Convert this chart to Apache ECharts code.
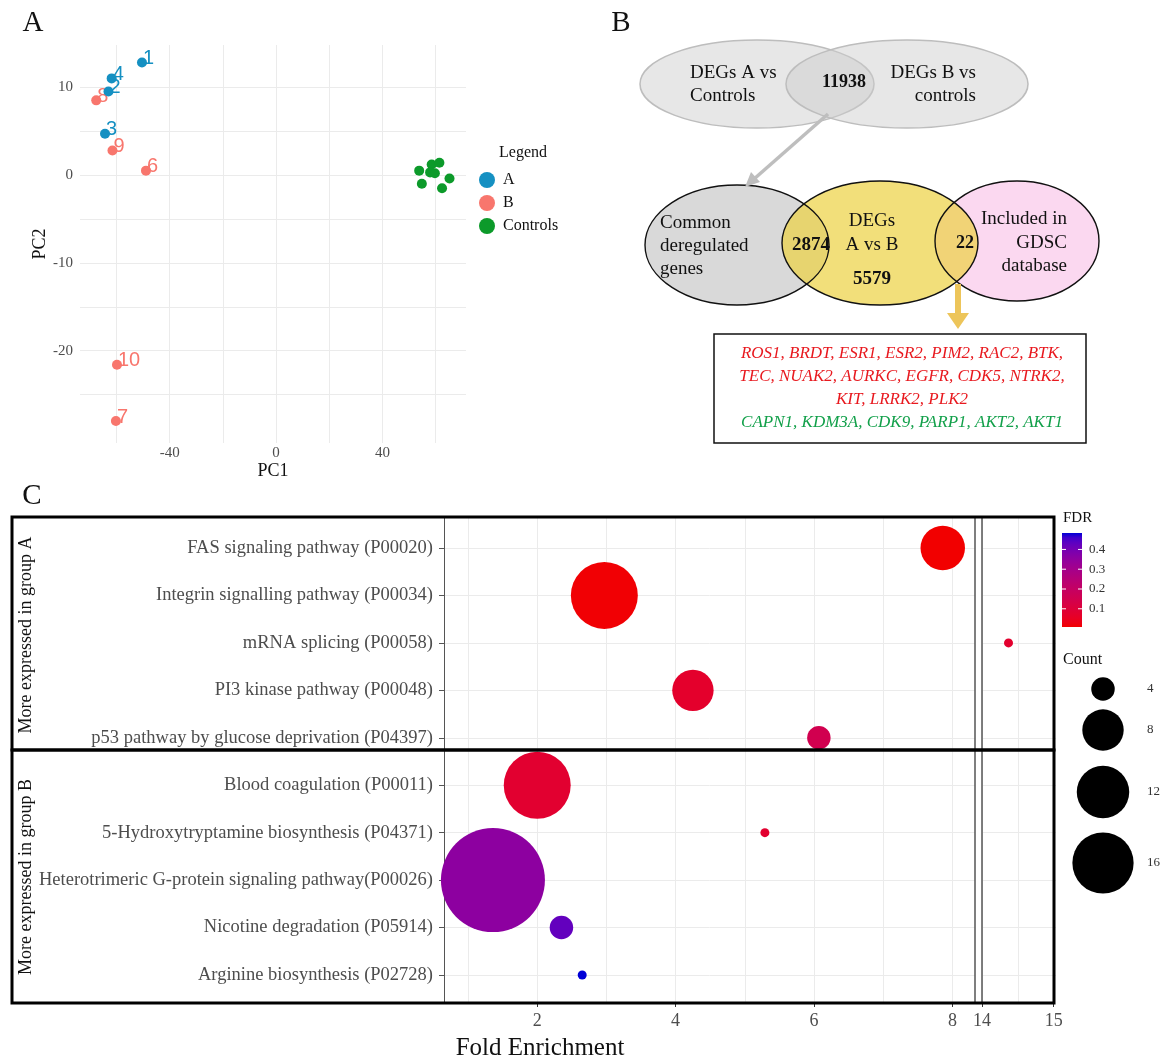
<!DOCTYPE html>
<html><head><meta charset="utf-8">
<script src="https://cdn.jsdelivr.net/npm/echarts@6/dist/echarts.min.js"></script>
<style>html,body{margin:0;padding:0;background:#fff}#c{width:1162px;height:1059px}</style>
</head><body><div id="c"></div>
<script>
// ---------------- Panel A: PCA ----------------
const sampleA_PC1 = [-50.4, -63.0, -64.3, -61.8];
const sampleA_PC2 = [12.8, 9.5, 4.7, 11.0];
const sampleA_ids = ['1', '2', '3', '4'];
const sampleB_PC1 = [-48.9, -60.2, -67.6, -61.5, -59.8];
const sampleB_PC2 = [0.5, -28.0, 8.5, 2.8, -21.6];
const sampleB_ids = ['6', '7', '8', '9', '10'];
const control_PC1 = [53.8, 54.8, 58.5, 61.4, 57.9, 59.7, 65.2, 62.4];
const control_PC2 = [0.5, -1.0, 1.2, 1.4, 0.3, 0.2, -0.4, -1.5];
const pcaXLabels = [-40, 0, 40];
const pcaXGrid = [-60, -40, -20, 0, 20, 40, 60];
const pcaYLabels = [-20, -10, 0, 10];
const pcaYGrid = [-25, -20, -15, -10, -5, 0, 5, 10];
const groupNames = ['A', 'B', 'Controls'];

// ---------------- Panel B: Venn ----------------
const vennTopLeft = ['DEGs A vs', 'Controls'];
const vennTopRight = ['DEGs B vs', 'controls'];
const vennCommonCount = 11938;
const vennBottomLeft = ['Common', 'deregulated', 'genes'];
const vennBottomMid = ['DEGs', 'A vs B'];
const vennBottomRight = ['Included in', 'GDSC', 'database'];
const vennOverlapLeft = 2874;
const vennMidCount = 5579;
const vennOverlapRight = 22;
const genesUp = ['ROS1', 'BRDT', 'ESR1', 'ESR2', 'PIM2', 'RAC2', 'BTK', 'TEC', 'NUAK2', 'AURKC', 'EGFR', 'CDK5', 'NTRK2', 'KIT', 'LRRK2', 'PLK2'];
const genesDown = ['CAPN1', 'KDM3A', 'CDK9', 'PARP1', 'AKT2', 'AKT1'];

// ---------------- Panel C: enrichment ----------------
const pathways = [
  'FAS signaling pathway (P00020)',
  'Integrin signalling pathway (P00034)',
  'mRNA splicing (P00058)',
  'PI3 kinase pathway (P00048)',
  'p53 pathway by glucose deprivation (P04397)',
  'Blood coagulation (P00011)',
  '5-Hydroxytryptamine biosynthesis (P04371)',
  'Heterotrimeric G-protein signaling pathway(P00026)',
  'Nicotine degradation (P05914)',
  'Arginine biosynthesis (P02728)'
];
const foldEnrichment = [7.86, 2.97, 14.37, 4.25, 6.07, 2.00, 5.29, 1.36, 2.35, 2.65];
const fdrValues = [0.008, 0.012, 0.075, 0.070, 0.150, 0.080, 0.078, 0.355, 0.425, 0.483];
const geneCount = [9, 19, 3, 8, 4, 19, 3, 46, 4, 3];
const feLeftLabels = [2, 4, 6, 8];
const feLeftGrid = [1, 2, 3, 4, 5, 6, 7, 8];
const feRightLabels = [14, 15];
const feRightGrid = [14, 14.5, 15];
const fdrLegendTicks = [0.1, 0.2, 0.3, 0.4];
const countLegend = [4, 8, 12, 16];

// ---------------- helpers ----------------
const SERIF = '"Liberation Serif", "DejaVu Serif", serif';
const SANS = '"Liberation Sans", Arial, sans-serif';
const GRID_GRAY = '#EBEBEB';
const TXT_GRAY = '#4D4D4D';
const colA = '#1590C2', colB = '#F8766D', colCtrl = '#0C9A2A';

function hexToRgb(h) { h = h.replace('#', ''); return [0, 2, 4].map(i => parseInt(h.substr(i, 2), 16)); }
function toLin(c) { c /= 255; return c <= 0.04045 ? c / 12.92 : Math.pow((c + 0.055) / 1.055, 2.4); }
function fromLin(v) { v = v <= 0.0031308 ? 12.92 * v : 1.055 * Math.pow(Math.max(v, 0), 1 / 2.4) - 0.055; return Math.round(Math.min(1, Math.max(0, v)) * 255); }
const Xn = 0.95047, Yn = 1, Zn = 1.08883;
function fl(t) { return t > 0.008856 ? Math.cbrt(t) : 7.787 * t + 16 / 116; }
function finv(t) { return t > 0.206893 ? t * t * t : (t - 16 / 116) / 7.787; }
function rgbToLab(rgb) {
  const [r, g, b] = rgb.map(toLin);
  const X = 0.4124 * r + 0.3576 * g + 0.1805 * b, Y = 0.2126 * r + 0.7152 * g + 0.0722 * b, Z = 0.0193 * r + 0.1192 * g + 0.9505 * b;
  const fx = fl(X / Xn), fy = fl(Y / Yn), fz = fl(Z / Zn);
  return [116 * fy - 16, 500 * (fx - fy), 200 * (fy - fz)];
}
function labToHex(L, a, b) {
  const fy = (L + 16) / 116, fx = fy + a / 500, fz = fy - b / 200;
  const X = Xn * finv(fx), Y = Yn * finv(fy), Z = Zn * finv(fz);
  const r = 3.2406 * X - 1.5372 * Y - 0.4986 * Z, g = -0.9689 * X + 1.8758 * Y + 0.0415 * Z, bb = 0.0557 * X - 0.2040 * Y + 1.0570 * Z;
  return '#' + [r, g, bb].map(v => fromLin(v).toString(16).padStart(2, '0')).join('');
}
const lowLab = rgbToLab(hexToRgb('#F20000')), highLab = rgbToLab(hexToRgb('#0000D6'));
const NSTOP = 21;
const fdrStops = Array.from({ length: NSTOP }, (_, i) => {
  const t = i / (NSTOP - 1);
  return labToHex(lowLab[0] + (highLab[0] - lowLab[0]) * t, lowLab[1] + (highLab[1] - lowLab[1]) * t, lowLab[2] + (highLab[2] - lowLab[2]) * t);
});

const fdrMin = Math.min(...fdrValues), fdrMax = Math.max(...fdrValues);
const cMin = Math.min(...geneCount), cMax = Math.max(...geneCount);
const D_MIN = 9, D_MAX = 104;
const sizeOf = c => D_MIN + (D_MAX - D_MIN) * Math.sqrt(Math.max(0, c - cMin) / (cMax - cMin));

const leftRows = [], rightRows = [];
pathways.forEach((p, i) => {
  const row = [foldEnrichment[i], i, fdrValues[i], geneCount[i], p];
  (foldEnrichment[i] > 10 ? rightRows : leftRows).push(row);
});
const catIdx = pathways.map((_, i) => i);

// ---------------- graphics ----------------
const G = [];
function text(x, y, t, style, extra) {
  G.push(Object.assign({ type: 'text', x, y, z: 60, style: Object.assign({ text: t, fontFamily: SERIF, fontSize: 19, fill: '#111', align: 'left', verticalAlign: 'middle' }, style || {}) }, extra || {}));
}
function ellipse(cx, cy, rx, ry, fill, stroke, lw, z) {
  G.push({ type: 'ellipse', z: z, shape: { cx, cy, rx, ry }, style: { fill: fill, stroke: stroke, lineWidth: lw } });
}

// panel letters
text(33, 23, 'A', { fontSize: 29, align: 'center' });
text(621, 23, 'B', { fontSize: 29, align: 'center' });
text(32, 496, 'C', { fontSize: 29, align: 'center' });

// PCA legend title
text(499, 153, 'Legend', { fontSize: 16 });

// Venn top
ellipse(757, 84, 117, 44, 'rgba(205,205,205,0.48)', '#BDBDBD', 1.5, 10);
ellipse(907, 84, 121, 44, 'rgba(205,205,205,0.48)', '#BDBDBD', 1.5, 11);
text(690, 73, vennTopLeft[0]);
text(690, 96, vennTopLeft[1]);
text(844, 82, String(vennCommonCount), { fontWeight: 'bold', fontSize: 18, align: 'center' });
text(976, 73, vennTopRight[0], { align: 'right' });
text(976, 96, vennTopRight[1], { align: 'right' });
// gray arrow
G.push({ type: 'line', z: 20, shape: { x1: 828, y1: 114, x2: 754, y2: 179 }, style: { stroke: '#BEBEBE', lineWidth: 3.5 } });
G.push({ type: 'polygon', z: 20, shape: { points: [[745, 187], [751, 172], [760, 182]] }, style: { fill: '#BEBEBE' } });

// Venn bottom
ellipse(737, 245, 92, 60, '#D9D9D9', null, 0, 10);
ellipse(1017, 241, 82, 60, '#FBD8F0', null, 0, 11);
ellipse(880, 243, 98, 62, 'rgba(236,210,66,0.70)', '#111', 1.4, 12);
ellipse(737, 245, 92, 60, null, '#111', 1.4, 13);
ellipse(1017, 241, 82, 60, null, '#111', 1.4, 13);
text(660, 223, vennBottomLeft[0]);
text(660, 246, vennBottomLeft[1]);
text(660, 269, vennBottomLeft[2]);
text(811, 245, String(vennOverlapLeft), { fontWeight: 'bold', fontSize: 19, align: 'center' });
text(872, 221, vennBottomMid[0], { align: 'center' });
text(872, 245, vennBottomMid[1], { align: 'center' });
text(872, 279, String(vennMidCount), { fontWeight: 'bold', fontSize: 19, align: 'center' });
text(965, 243, String(vennOverlapRight), { fontWeight: 'bold', fontSize: 18, align: 'center' });
text(1067, 219, vennBottomRight[0], { align: 'right' });
text(1067, 243, vennBottomRight[1], { align: 'right' });
text(1067, 266, vennBottomRight[2], { align: 'right' });
// yellow arrow
G.push({ type: 'rect', z: 20, shape: { x: 955, y: 284, width: 6, height: 30 }, style: { fill: '#EDC55A' } });
G.push({ type: 'polygon', z: 20, shape: { points: [[947, 313], [969, 313], [958, 329]] }, style: { fill: '#EDC55A' } });
// genes box
G.push({ type: 'rect', z: 20, shape: { x: 714, y: 334, width: 372, height: 109 }, style: { fill: 'none', stroke: '#111', lineWidth: 1.5 } });
const geneLines = [genesUp.slice(0, 7).join(', ') + ',', genesUp.slice(7, 13).join(', ') + ',', genesUp.slice(13).join(', ')];
const geneText = geneLines.map(l => '{r|' + l + '}').join('\n') + '\n{g|' + genesDown.join(', ') + '}';
const GF = 17;
G.push({
  type: 'text', z: 60, x: 902, y: 388, style: {
    text: geneText, align: 'center', verticalAlign: 'middle', fontFamily: SERIF, fontStyle: 'italic', fontSize: GF, lineHeight: 23.3,
    rich: {
      r: { fill: '#E8191F', fontFamily: SERIF, fontStyle: 'italic', fontSize: GF, lineHeight: 23.3 },
      g: { fill: '#12A04A', fontFamily: SERIF, fontStyle: 'italic', fontSize: GF, lineHeight: 23.3 }
    }
  }
});

// Panel C boxes
G.push({ type: 'rect', z: 100, shape: { x: 12, y: 517, width: 1042, height: 233 }, style: { fill: 'none', stroke: '#000', lineWidth: 3 } });
G.push({ type: 'rect', z: 100, shape: { x: 12, y: 750, width: 1042, height: 253 }, style: { fill: 'none', stroke: '#000', lineWidth: 3 } });
text(0, 0, 'More expressed in group A', { fontSize: 18, align: 'center' }, { x: 26, y: 635, rotation: Math.PI / 2 });
text(0, 0, 'More expressed in group B', { fontSize: 18, align: 'center' }, { x: 26, y: 877, rotation: Math.PI / 2 });
text(540, 1048, 'Fold Enrichment', { fontSize: 25, align: 'center' });

// FDR colorbar
const barX = 1062, barY = 533, barW = 20, barH = 94;
text(1063, 518, 'FDR', { fontSize: 15 });
G.push({
  type: 'rect', z: 60, shape: { x: barX, y: barY, width: barW, height: barH },
  style: { fill: { type: 'linear', x: 0, y: 1, x2: 0, y2: 0, colorStops: fdrStops.map((c, i) => ({ offset: i / (NSTOP - 1), color: c })) } }
});
fdrLegendTicks.forEach(v => {
  const yy = barY + barH * (1 - (v - fdrMin) / (fdrMax - fdrMin));
  G.push({ type: 'line', z: 61, shape: { x1: barX, y1: yy, x2: barX + 4, y2: yy }, style: { stroke: '#fff', lineWidth: 1 } });
  G.push({ type: 'line', z: 61, shape: { x1: barX + barW - 4, y1: yy, x2: barX + barW, y2: yy }, style: { stroke: '#fff', lineWidth: 1 } });
  text(1089, yy, v.toFixed(1), { fontSize: 13, fill: '#333' });
});
// Count legend
text(1063, 660, 'Count', { fontSize: 16 });
const countY = [689, 730, 792, 863];
countLegend.forEach((c, i) => {
  G.push({ type: 'circle', z: 60, shape: { cx: 1103, cy: countY[i], r: sizeOf(c) / 2 }, style: { fill: '#000' } });
  text(1147, countY[i], String(c), { fontSize: 13, fill: '#333' });
});

// ---------------- option ----------------
const pcaLabel = color => ({
  show: true, position: [6, 11], align: 'left', verticalAlign: 'bottom',
  formatter: p => p.value[2], color: color, fontFamily: SANS, fontSize: 20, lineHeight: 20,
  textBorderWidth: 0, textBorderColor: 'transparent', opacity: 1
});
const noZero = { onZero: false, show: false };

const option = {
  animation: false,
  backgroundColor: '#fff',
  grid: [
    { left: 80, top: 45, width: 386, height: 398 },
    { left: 444, top: 517, width: 531, height: 486 },
    { left: 982, top: 517, width: 74, height: 486 }
  ],
  xAxis: [
    {
      gridIndex: 0, type: 'value', min: -73.7, max: 71.4, position: 'bottom',
      axisLine: noZero, axisTick: { show: false, customValues: pcaXGrid },
      axisLabel: { customValues: pcaXLabels, color: TXT_GRAY, fontFamily: SERIF, fontSize: 15, margin: 3 },
      splitLine: { show: true, lineStyle: { color: GRID_GRAY, width: 1 } },
      name: 'PC1', nameLocation: 'middle', nameGap: 15, nameTextStyle: { fontFamily: SERIF, fontSize: 18, color: '#111' }
    },
    {
      gridIndex: 1, type: 'value', min: 0.653, max: 8.326, position: 'top',
      axisLine: noZero, axisLabel: { show: false },
      axisTick: { show: false, customValues: feLeftGrid },
      splitLine: { show: true, lineStyle: { color: GRID_GRAY, width: 1 } }
    },
    {
      gridIndex: 1, type: 'value', min: 0.653, max: 8.326, position: 'bottom',
      axisLine: noZero, splitLine: { show: false },
      axisTick: { show: true, customValues: feLeftLabels, length: 4, lineStyle: { color: '#333' } },
      axisLabel: { customValues: feLeftLabels, color: TXT_GRAY, fontFamily: SERIF, fontSize: 18, margin: 9 }
    },
    {
      gridIndex: 2, type: 'value', min: 14, max: 15.033, position: 'top',
      axisLine: noZero, axisLabel: { show: false },
      axisTick: { show: false, customValues: feRightGrid },
      splitLine: { show: true, lineStyle: { color: GRID_GRAY, width: 1 } }
    },
    {
      gridIndex: 2, type: 'value', min: 14, max: 15.033, position: 'bottom',
      axisLine: noZero, splitLine: { show: false },
      axisTick: { show: true, customValues: feRightLabels, length: 4, lineStyle: { color: '#333' } },
      axisLabel: { customValues: feRightLabels, color: TXT_GRAY, fontFamily: SERIF, fontSize: 18, margin: 9 }
    }
  ],
  yAxis: [
    {
      gridIndex: 0, type: 'value', min: -30.5, max: 14.8, position: 'left',
      axisLine: noZero, axisTick: { show: false, customValues: pcaYGrid },
      axisLabel: { customValues: pcaYLabels, color: TXT_GRAY, fontFamily: SERIF, fontSize: 15, margin: 7 },
      splitLine: { show: true, lineStyle: { color: GRID_GRAY, width: 1 } },
      name: 'PC2', nameLocation: 'middle', nameGap: 31, nameRotate: 90, nameTextStyle: { fontFamily: SERIF, fontSize: 18, color: '#111' }
    },
    {
      gridIndex: 1, type: 'value', inverse: true, min: -0.653, max: 9.59, position: 'left',
      axisLine: { show: true, onZero: false, lineStyle: { color: '#555', width: 1 } },
      axisTick: { show: true, customValues: catIdx, length: 5, lineStyle: { color: '#555' } },
      axisLabel: { customValues: catIdx, formatter: v => pathways[Math.round(v)], color: TXT_GRAY, fontFamily: SERIF, fontSize: 18.5, margin: 11 },
      splitLine: { show: true, lineStyle: { color: GRID_GRAY, width: 1 } }
    },
    {
      gridIndex: 1, type: 'value', inverse: true, min: -0.653, max: 9.59, position: 'right',
      axisLine: { show: true, onZero: false, lineStyle: { color: '#555', width: 1.5 } },
      axisTick: { show: false }, axisLabel: { show: false }, splitLine: { show: false }
    },
    {
      gridIndex: 2, type: 'value', inverse: true, min: -0.653, max: 9.59, position: 'left',
      axisLine: { show: true, onZero: false, lineStyle: { color: '#555', width: 1.5 } },
      axisTick: { show: false, customValues: catIdx }, axisLabel: { show: false },
      splitLine: { show: true, lineStyle: { color: GRID_GRAY, width: 1 } }
    }
  ],
  legend: {
    data: groupNames, left: 474, top: 167, orient: 'vertical', icon: 'circle',
    itemWidth: 16, itemHeight: 16, itemGap: 7, selectedMode: false,
    textStyle: { fontFamily: SERIF, fontSize: 16, color: '#111', padding: [0, 0, 0, 3] }
  },
  visualMap: {
    type: 'continuous', show: false, min: fdrMin, max: fdrMax, dimension: 2, seriesIndex: [3, 4],
    inRange: { color: fdrStops }
  },
  series: [
    {
      name: 'A', type: 'scatter', xAxisIndex: 0, yAxisIndex: 0, symbolSize: 10,
      itemStyle: { color: colA, opacity: 1 }, data: sampleA_PC1.map((x, i) => [x, sampleA_PC2[i], sampleA_ids[i]]),
      label: pcaLabel(colA), z: 5
    },
    {
      name: 'B', type: 'scatter', xAxisIndex: 0, yAxisIndex: 0, symbolSize: 10,
      itemStyle: { color: colB, opacity: 1 }, data: sampleB_PC1.map((x, i) => [x, sampleB_PC2[i], sampleB_ids[i]]),
      label: pcaLabel(colB), z: 4
    },
    {
      name: 'Controls', type: 'scatter', xAxisIndex: 0, yAxisIndex: 0, symbolSize: 10,
      itemStyle: { color: colCtrl, opacity: 1 }, data: control_PC1.map((x, i) => [x, control_PC2[i]])
    },
    {
      name: 'enrich-left', type: 'scatter', xAxisIndex: 1, yAxisIndex: 1, clip: false,
      data: leftRows, symbolSize: v => sizeOf(v[3]), itemStyle: { opacity: 1 }
    },
    {
      name: 'enrich-right', type: 'scatter', xAxisIndex: 3, yAxisIndex: 3, clip: false,
      data: rightRows, symbolSize: v => sizeOf(v[3]), itemStyle: { opacity: 1 }
    }
  ],
  graphic: { elements: G }
};

const chart = echarts.init(document.getElementById('c'), null, { renderer: 'canvas', width: 1162, height: 1059 });
chart.setOption(option);
</script>
</body></html>
